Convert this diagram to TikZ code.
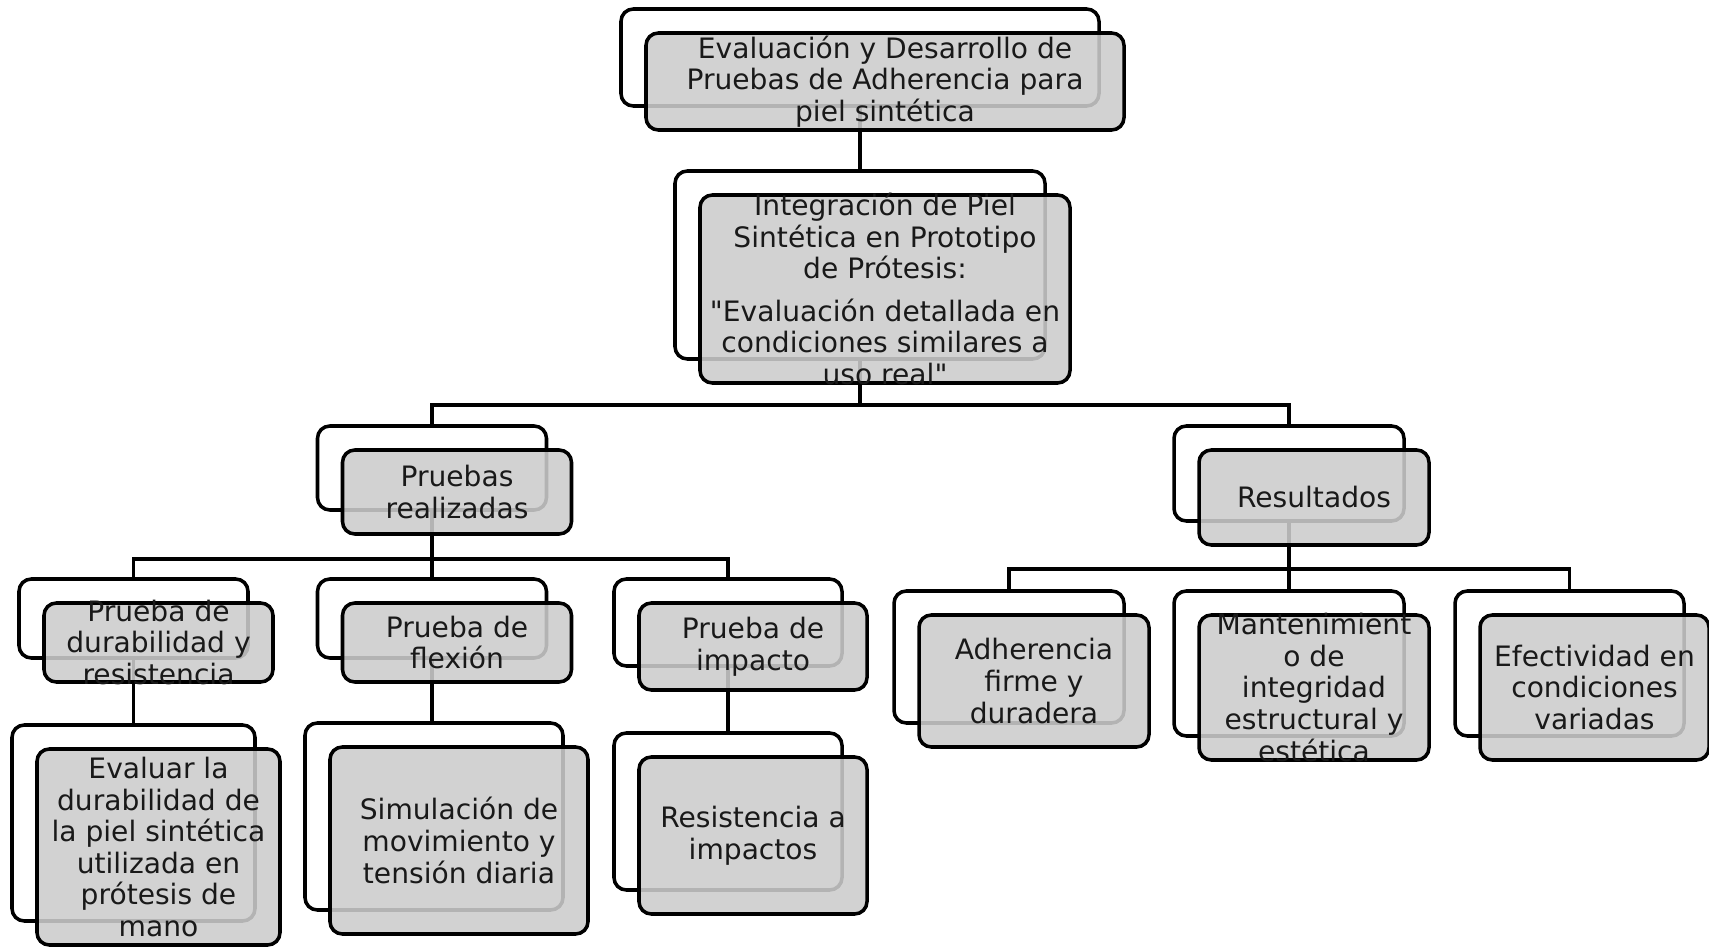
\documentclass[tikz,border=0pt]{standalone}
\usepackage{fontspec}
\setmainfont{DejaVu Sans}
\usetikzlibrary{positioning,calc}
\definecolor{boxgray}{RGB}{204,204,204}
\definecolor{inkblack}{RGB}{25,25,25}
\pgfdeclarelayer{back}
\pgfsetlayers{back,main}
\tikzset{
  sz/.style 2 args={minimum width=#1*0.2mm, minimum height=#2*0.2mm},
  backbox/.style={draw=black, line width=2pt, rounded corners=7pt, fill=white, inner sep=0pt},
  frontbox/.style={draw=black, line width=2pt, rounded corners=7pt, fill=boxgray, fill opacity=.88, inner sep=0pt},
  txt/.style={align=center, text=inkblack, text opacity=1, fill opacity=1, inner sep=0pt, font=\fontsize{16}{18}\selectfont},
  conn/.style={line width=1.8pt, black},
}
% marco blanco + caja gris desplazada
\newcommand{\twobox}[6]{%
  \node[backbox, sz={#4}{#5}] (#1b) at (#2,#3) {};
  \node[frontbox, sz={#4}{#5}, label={[txt]center:{#6}}] (#1) at ([shift={(25,24)}]#1b) {};
}

\begin{document}
\begin{tikzpicture}[x=0.2mm,y=-0.2mm]
  \useasboundingbox (0,0) rectangle (1709,947);
  % nivel 0 y 1
  \twobox{top}{860}{57.5}{478}{97}{Evaluación y Desarrollo de\\Pruebas de Adherencia para\\piel sintética}
  \twobox{int}{860}{265}{370}{188}{Integración de Piel\\Sintética en Prototipo\\de Prótesis:\\[6pt]\textquotedbl Evaluación detallada en\\condiciones similares a\\uso real\textquotedbl}
  % nivel 2
  \twobox{pru}{432}{468}{229}{84}{Pruebas\\realizadas}
  \twobox{res}{1289}{473.5}{230}{95}{Resultados}
  % pruebas
  \twobox{dur}{133.5}{618.5}{229}{79}{Prueba de\\durabilidad y\\resistencia}
  \twobox{flx}{432}{618.5}{229}{79}{Prueba de\\flexión}
  \twobox{imp}{728}{622.5}{228}{87}{Prueba de\\impacto}
  \twobox{eva}{133.5}{823}{243}{196}{Evaluar la\\durabilidad de\\la piel sintética\\utilizada en\\prótesis de\\mano}
  \twobox{sim}{434}{816.5}{258}{187}{Simulación de\\movimiento y\\tensión diaria}
  \twobox{rim}{728}{811.5}{228}{157}{Resistencia a\\impactos}
  % resultados
  \twobox{adh}{1009}{657}{230}{132}{Adherencia\\firme y\\duradera}
  \twobox{man}{1289}{663.5}{230}{145}{Mantenimient\\o de\\integridad\\estructural y\\estética}
  \twobox{efe}{1569.5}{663.5}{229}{145}{Efectividad en\\condiciones\\variadas}

  \begin{pgfonlayer}{back}
    \coordinate (busa) at (0,405);
    \coordinate (busb) at (0,559);
    \coordinate (busc) at (0,569);
    \draw[conn] (topb.south) -- (intb.north);
    \draw[conn] (intb.south) -- (intb.south |- busa);
    \draw[conn] (prub.north) |- (resb.north |- busa) -- (resb.north);
    \draw[conn] (prub.south) -- (flxb.north);
    \draw[conn] (durb.north) |- (impb.north |- busb) -- (impb.north);
    \draw[conn] (durb.south) -- (evab.north);
    \draw[conn] (flxb.south) -- (flxb.south |- simb.north);
    \draw[conn] (impb.south) -- (rimb.north);
    \draw[conn] (resb.south) -- (manb.north);
    \draw[conn] (adhb.north) |- (efeb.north |- busc) -- (efeb.north);
  \end{pgfonlayer}
\end{tikzpicture}
\end{document}
